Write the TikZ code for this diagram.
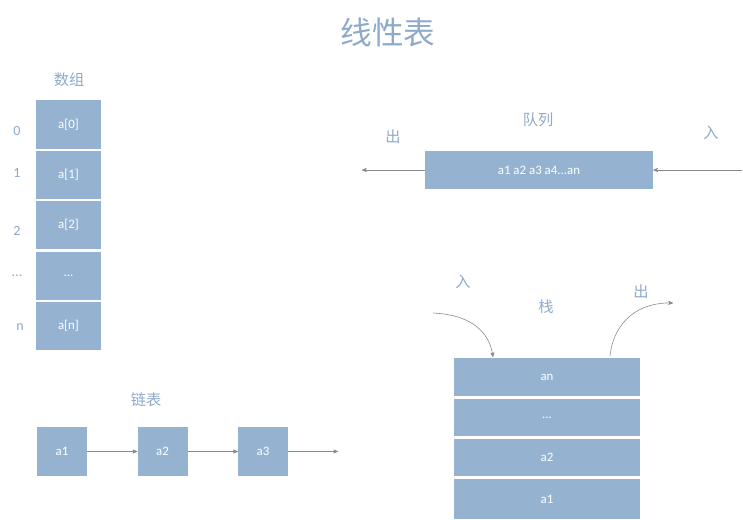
\documentclass[tikz,border=0pt]{standalone}
\usepackage{fontspec}
\setmainfont{Carlito}
\newfontfamily\cjk{Noto Sans CJK SC}
\usetikzlibrary{arrows, positioning}

\definecolor{boxblue}{HTML}{95B3D0}
\definecolor{labelblue}{HTML}{8EAACB}
\definecolor{arrowgray}{HTML}{8A8A8A}

\tikzset{
  cell/.style={fill=boxblue, text=white, inner sep=0pt, font=\fontsize{11}{13}\selectfont},
  lbl/.style={text=labelblue, font=\cjk\fontsize{13}{15}\selectfont},
  idx/.style={text=labelblue, font=\fontsize{12}{14}\selectfont},
  link/.style={->, >=stealth', draw=arrowgray, line width=0.5pt}
}

\begin{document}
\begin{tikzpicture}[x=0.03cm, y=-0.03cm]
\useasboundingbox (0,0) rectangle (743,519);

% Title
\node[text=labelblue, font=\cjk\fontsize{27}{30}\selectfont] (title) at (388,32) {线性表};

% Array
\node[lbl] (arrlbl) at (69,80) {数组};
\node[cell, minimum width=65*0.03cm, minimum height=49*0.03cm] (c0) at (68.5,124.5) {a[0]};
\node[cell, minimum width=65*0.03cm, minimum height=48*0.03cm] (c1) at (68.5,175) {a[1]};
\node[cell, minimum width=65*0.03cm, minimum height=48*0.03cm] (c2) at (68.5,225) {a[2]};
\node[cell, minimum width=65*0.03cm, minimum height=48*0.03cm] (c3) at (68.5,276) {...};
\node[cell, minimum width=65*0.03cm, minimum height=48*0.03cm] (c4) at (68.5,326) {a[n]};
\node[idx] (i0) at (17,131) {0};
\node[idx] (i1) at (17,173) {1};
\node[idx] (i2) at (17,231) {2};
\node[idx] (i3) at (17,276) {...};
\node[idx] (i4) at (20,327) {n};

% Queue
\node[lbl] (qlbl) at (538,120) {队列};
\node[lbl] (qout) at (393,137) {出};
\node[lbl] (qin) at (711,133) {入};
\node[cell, minimum width=228*0.03cm, minimum height=38*0.03cm] (queue) at (539,170) {a1 a2 a3 a4...an};
\coordinate (qleft) at (362,170);
\coordinate (qright) at (742,170);
\draw[link] (queue.west) -- (qleft);
\draw[link] (qright) -- (queue.east);

% Linked list
\node[lbl] (llbl) at (146,400) {链表};
\node[cell, minimum width=50*0.03cm, minimum height=49*0.03cm] (l1) at (62,451.5) {a1};
\node[cell, minimum width=50*0.03cm, minimum height=49*0.03cm] (l2) at (162.5,451.5) {a2};
\node[cell, minimum width=50*0.03cm, minimum height=49*0.03cm] (l3) at (263,451.5) {a3};
\coordinate (lend) at (338,451.5);
\draw[link] (l1) -- (l2);
\draw[link] (l2) -- (l3);
\draw[link] (l3) -- (lend);

% Stack
\node[lbl] (slbl) at (546,307) {栈};
\node[lbl] (sin) at (463,282) {入};
\node[lbl] (sout) at (641,292) {出};
\node[cell, minimum width=186*0.03cm, minimum height=38*0.03cm] (s4) at (547,377) {an};
\node[cell, minimum width=186*0.03cm, minimum height=37*0.03cm] (s3) at (547,417.5) {...};
\node[cell, minimum width=186*0.03cm, minimum height=37*0.03cm] (s2) at (547,457.5) {a2};
\node[cell, minimum width=186*0.03cm, minimum height=40*0.03cm] (s1) at (547,499) {a1};
\coordinate (pushfrom) at (433,313);
\coordinate (pushto) at (493,357);
\coordinate (popfrom) at (610,356);
\coordinate (popto) at (673,303);
\draw[link] (pushfrom) .. controls (475,315) and (490,335) .. (pushto);
\draw[link] (popfrom) .. controls (614,320) and (640,302) .. (popto);
\end{tikzpicture}
\end{document}
